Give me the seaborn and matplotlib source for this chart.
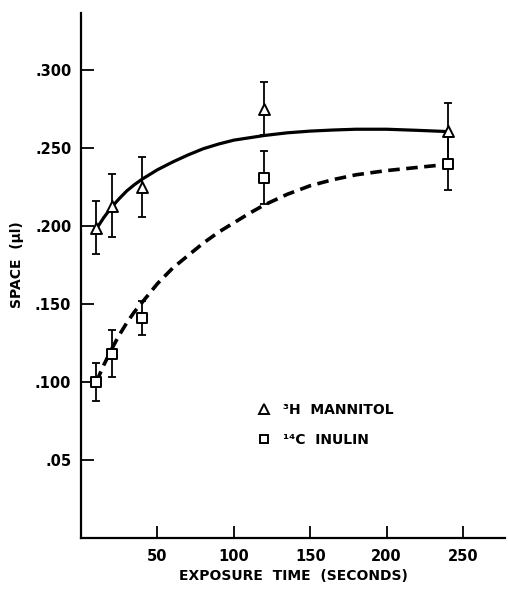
import matplotlib
matplotlib.use("Agg")
import matplotlib.pyplot as plt
from matplotlib.lines import Line2D
import seaborn as sns
import pandas as pd

# ---- data ----
time_points = [10, 20, 40, 120, 240]
mannitol_mean = [0.199, 0.213, 0.225, 0.275, 0.261]
mannitol_err = [0.017, 0.020, 0.019, 0.017, 0.018]
inulin_mean = [0.100, 0.118, 0.141, 0.231, 0.240]
inulin_err = [0.012, 0.015, 0.011, 0.017, 0.017]

# fitted curves
mannitol_curve_t = [10, 15, 20, 25, 30, 35, 40, 45, 50, 55, 60, 70, 80, 90, 100, 110, 120, 135, 150, 165, 180, 200, 220, 240]
mannitol_curve_y = [0.198, 0.2055, 0.212, 0.2175, 0.2225, 0.2265, 0.230, 0.233, 0.236, 0.2385, 0.241, 0.2455, 0.2495, 0.2525, 0.255, 0.2565, 0.258, 0.2597, 0.2608, 0.2615, 0.262, 0.262, 0.2613, 0.2605]
inulin_curve_t = [10, 15, 20, 25, 30, 35, 40, 45, 50, 55, 60, 70, 80, 90, 100, 110, 120, 135, 150, 165, 180, 200, 220, 235]
inulin_curve_y = [0.100, 0.111, 0.121, 0.130, 0.138, 0.145, 0.151, 0.157, 0.163, 0.168, 0.173, 0.181, 0.189, 0.196, 0.202, 0.208, 0.2135, 0.2203, 0.2258, 0.2297, 0.2328, 0.2355, 0.2375, 0.239]

y_ticks = [0.05, 0.10, 0.15, 0.20, 0.25, 0.30]
y_tick_labels = [".05", ".100", ".150", ".200", ".250", ".300"]
x_ticks = [50, 100, 150, 200, 250]
x_tick_labels = ["50", "100", "150", "200", "250"]

legend_labels = ["\u00b3H  MANNITOL", "\u00b9\u2074C  INULIN"]

# ---- figure ----
sns.set_theme(style="ticks")
plt.rcParams["font.family"] = ["DejaVu Sans"]
plt.rcParams["font.weight"] = "bold"
plt.rcParams["text.color"] = "black"
plt.rcParams["axes.labelcolor"] = "black"
plt.rcParams["xtick.color"] = "black"
plt.rcParams["ytick.color"] = "black"

fig = plt.figure(figsize=(5.08, 5.89), dpi=100)
ax = fig.add_axes([81 / 508, 51 / 589, 424 / 508, 525 / 589])

curves = pd.DataFrame({"t": mannitol_curve_t, "y": mannitol_curve_y})
sns.lineplot(data=curves, x="t", y="y", ax=ax, color="black", lw=2.3,
             sort=True, estimator=None)
curves2 = pd.DataFrame({"t": inulin_curve_t, "y": inulin_curve_y})
sns.lineplot(data=curves2, x="t", y="y", ax=ax, color="black", lw=2.6,
             sort=True, estimator=None, linestyle=(0, (3.2, 1.8)))

ax.errorbar(time_points, mannitol_mean, yerr=mannitol_err, fmt="none",
            ecolor="black", elinewidth=1.3, capsize=2.6, capthick=1.3, zorder=3)
ax.errorbar(time_points, inulin_mean, yerr=inulin_err, fmt="none",
            ecolor="black", elinewidth=1.3, capsize=2.6, capthick=1.3, zorder=3)

pts = pd.DataFrame({"t": time_points, "y": mannitol_mean})
sns.scatterplot(data=pts, x="t", y="y", ax=ax, marker="^", s=62,
                facecolor="white", edgecolor="black", linewidth=1.4, zorder=4)
pts2 = pd.DataFrame({"t": time_points, "y": inulin_mean})
sns.scatterplot(data=pts2, x="t", y="y", ax=ax, marker="s", s=48,
                facecolor="white", edgecolor="black", linewidth=1.4, zorder=4)

ax.set_xlim(0, 277.5)
ax.set_ylim(0, 0.3365)
ax.set_xticks(x_ticks)
ax.set_xticklabels(x_tick_labels)
ax.set_yticks(y_ticks)
ax.set_yticklabels(y_tick_labels)
ax.tick_params(direction="in", length=9, width=1.3, labelsize=10.5,
               colors="black")
ax.tick_params(axis="x", pad=8)
ax.tick_params(axis="y", pad=7)
for lab in ax.get_xticklabels() + ax.get_yticklabels():
    lab.set_fontweight("bold")

for side in ["top", "right"]:
    ax.spines[side].set_visible(False)
for side in ["left", "bottom"]:
    ax.spines[side].set_linewidth(1.6)
    ax.spines[side].set_color("black")

ax.set_xlabel("EXPOSURE  TIME  (SECONDS)", fontsize=10, fontweight="bold",
              color="black")
ax.set_ylabel("SPACE  (\u00b5l)", fontsize=10, fontweight="bold", color="black")
ax.xaxis.set_label_coords(0.5, -0.06)
ax.yaxis.set_label_coords(-0.135, 0.52)

handles = [
    Line2D([], [], marker="^", linestyle="none", markersize=7,
           markerfacecolor="white", markeredgecolor="black", markeredgewidth=1.4),
    Line2D([], [], marker="s", linestyle="none", markersize=6,
           markerfacecolor="white", markeredgecolor="black", markeredgewidth=1.4),
]
leg = ax.legend(handles, legend_labels, loc="center left",
                bbox_to_anchor=(0.386, 0.216), frameon=False,
                handlelength=1.0, handletextpad=0.85, labelspacing=1.15,
                prop={"weight": "bold", "size": 10})
for t in leg.get_texts():
    t.set_color("black")

fig.savefig("out.png", dpi=100)
